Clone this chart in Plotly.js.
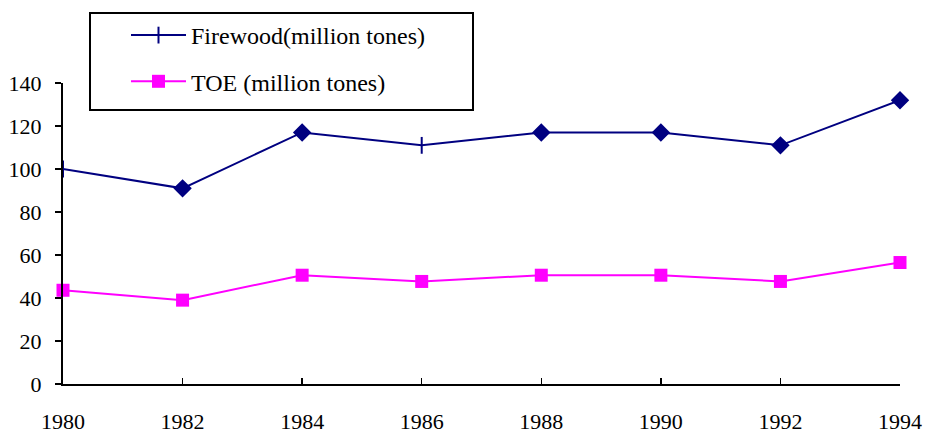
<!DOCTYPE html>
<html>
<head>
<meta charset="utf-8">
<script src="https://cdn.plot.ly/plotly-3.0.1.min.js"></script>
<style>
  html, body { margin: 0; padding: 0; background: #fff; }
  #chart { width: 928px; height: 434px; }
</style>
</head>
<body>
<div id="chart"></div>
<script>
// Years on the horizontal axis
const years = [1980, 1982, 1984, 1986, 1988, 1990, 1992, 1994];
// Firewood consumption, million tones
const firewood = [100, 91, 117, 111, 117, 117, 111, 132];
// Tonnes of oil equivalent, million tones
const toe = [43.6, 39, 50.6, 47.7, 50.6, 50.6, 47.7, 56.5];
// Marker shape per firewood point
const firewoodSymbols = ['line-ns', 'diamond', 'diamond', 'line-ns', 'diamond', 'diamond', 'diamond', 'diamond'];
// Tick labels
const yTicks = [0, 20, 40, 60, 80, 100, 120, 140];
const xTicks = years;

const NAVY = '#000080';
const MAGENTA = '#FF00FF';
const FONT = '"Liberation Serif", "Times New Roman", "DejaVu Serif", serif';

// plot area in pixels (used to place the legend frame in paper units)
const PLOT = { l: 63, r: 900, t: 83, b: 384 };
const px2x = p => (p - PLOT.l) / (PLOT.r - PLOT.l);
const px2y = p => (PLOT.b - p) / (PLOT.b - PLOT.t);

const traces = [
  {
    x: years, y: firewood, name: 'Firewood(million tones)',
    type: 'scatter', mode: 'lines+markers', legendgroup: 'a',
    line: { color: NAVY, width: 2 },
    marker: { symbol: firewoodSymbols, size: 12, color: NAVY, line: { color: NAVY, width: 2 } },
    cliponaxis: false
  },
  {
    x: years, y: toe, name: 'TOE (million tones)',
    type: 'scatter', mode: 'lines+markers', legendgroup: 'b',
    line: { color: MAGENTA, width: 2 },
    marker: { symbol: 'square', size: 13, color: MAGENTA },
    cliponaxis: false
  }
];

const layout = {
  width: 928, height: 434,
  margin: { l: PLOT.l, r: 928 - PLOT.r, t: PLOT.t, b: 434 - PLOT.b },
  paper_bgcolor: '#fff', plot_bgcolor: '#fff',
  font: { family: FONT, size: 22, color: '#000' },
  showlegend: true,
  legend: {
    x: px2x(126), y: px2y(13), xanchor: 'left', yanchor: 'top',
    bgcolor: 'rgba(0,0,0,0)', borderwidth: 0,
    font: { family: FONT, size: 24, color: '#000' },
    traceorder: 'grouped', tracegroupgap: 12, itemwidth: 55
  },
  // legend frame
  shapes: [{
    type: 'rect', xref: 'paper', yref: 'paper',
    x0: px2x(90), x1: px2x(473), y0: px2y(110), y1: px2y(13),
    line: { color: '#000', width: 2 }, fillcolor: '#fff', layer: 'above'
  }],
  xaxis: {
    range: [1980, 1994], tickvals: xTicks, ticktext: xTicks.map(String),
    showgrid: false, zeroline: false, showline: true, linecolor: '#000', linewidth: 2,
    ticks: 'inside', ticklen: 6, tickwidth: 1.5, tickcolor: '#000',
    ticklabelstandoff: 17, tickfont: { family: FONT, size: 22, color: '#000' }
  },
  yaxis: {
    range: [0, 140], tickvals: yTicks, ticktext: yTicks.map(String),
    showgrid: false, zeroline: false, showline: true, linecolor: '#000', linewidth: 2,
    ticks: 'outside', ticklen: 6, tickwidth: 1.5, tickcolor: '#000',
    ticklabelstandoff: 9, tickfont: { family: FONT, size: 22, color: '#000' }
  }
};

Plotly.newPlot('chart', traces, layout, { staticPlot: true, displayModeBar: false });
</script>
</body>
</html>
